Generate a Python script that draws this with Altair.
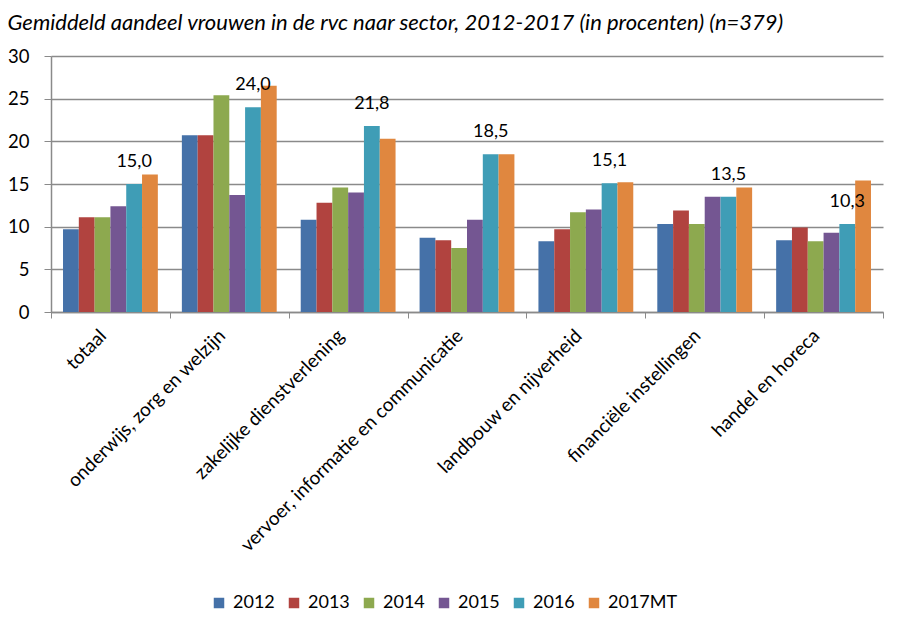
import altair as alt
import pandas as pd

sectors = ["totaal", "onderwijs, zorg en welzijn", "zakelijke dienstverlening",
           "vervoer, informatie en communicatie", "landbouw en nijverheid",
           "financiële instellingen", "handel en horeca"]
years = ["2012", "2013", "2014", "2015", "2016", "2017MT"]
v2012 = [9.7, 20.7, 10.8, 8.7, 8.3, 10.3, 8.4]
v2013 = [11.1, 20.7, 12.8, 8.4, 9.7, 11.9, 9.9]
v2014 = [11.1, 25.4, 14.6, 7.5, 11.7, 10.3, 8.3]
v2015 = [12.4, 13.7, 14.0, 10.8, 12.0, 13.5, 9.3]
v2016 = [15.0, 24.0, 21.8, 18.5, 15.1, 13.5, 10.3]
v2017 = [16.1, 26.5, 20.3, 18.5, 15.2, 14.6, 15.4]
colors = ["#4571A8", "#B1433F", "#8DA94F", "#745692", "#3F9DB6", "#E0873F"]
label_year = "2016"

series = [v2012, v2013, v2014, v2015, v2016, v2017]
rows = []
for y, vals in zip(years, series):
    for s, v in zip(sectors, vals):
        rows.append({"sector": s, "jaar": y, "waarde": v,
                     "label": f"{v:.1f}".replace(".", ",")})
df = pd.DataFrame(rows)

FONT = "Lato"

x = alt.X("sector:N", sort=sectors, title=None,
          scale=alt.Scale(paddingInner=0, paddingOuter=0),
          axis=alt.Axis(labelAngle=-45, labelAlign="right", labelBaseline="top",
                        labelFontSize=19, labelFont=FONT, labelColor="black",
                        labelPadding=8, labelOffset=-14, labelLimit=400,
                        tickBand="extent", tickColor="#8a8a8a", tickSize=6,
                        domainColor="#8a8a8a", domainWidth=1.5, grid=False))
xo = alt.XOffset("jaar:N", sort=years,
                 scale=alt.Scale(paddingInner=0, paddingOuter=0.76))

bars = alt.Chart(df).mark_bar().encode(
    x=x,
    xOffset=xo,
    y=alt.Y("waarde:Q", title=None,
            scale=alt.Scale(domain=[0, 30], nice=False),
            axis=alt.Axis(values=[0, 5, 10, 15, 20, 25, 30], labelFontSize=18.5,
                          labelFont=FONT, labelColor="black", labelPadding=15,
                          tickColor="#8a8a8a", tickSize=7, domainColor="#8a8a8a",
                          domainWidth=1.5, gridColor="#8a8a8a", gridWidth=1.5)),
    color=alt.Color("jaar:N", sort=years, title=None,
                    scale=alt.Scale(domain=years, range=colors),
                    legend=alt.Legend(orient="none", direction="horizontal",
                                      legendX=159, legendY=538,
                                      symbolType="square", symbolSize=110,
                                      symbolStrokeWidth=0, labelFontSize=18,
                                      labelFont=FONT, labelColor="black",
                                      labelOffset=5, columnPadding=10,
                                      labelLimit=300)),
)

texts = alt.Chart(df).transform_filter(
    alt.datum.jaar == label_year
).mark_text(baseline="bottom", dy=-13, fontSize=18, font=FONT, color="black").encode(
    x=alt.X("sector:N", sort=sectors),
    xOffset=xo,
    y=alt.Y("waarde:Q"),
    text="label:N",
)

chart = alt.layer(bars, texts).properties(
    width=832, height=256,
    title=alt.Title("Gemiddeld aandeel vrouwen in de rvc naar sector, 2012-2017 (in procenten) (n=379)",
                    anchor="start", font=FONT, fontSize=22, fontStyle="italic",
                    fontWeight="normal", color="black", dx=0, offset=12),
    autosize=alt.AutoSizeParams(type="none"),
    padding={"left": 43, "top": 48, "right": 9, "bottom": 301},
).configure_view(stroke=None)

chart.save("out.html", embed_options={"renderer": "svg", "actions": False})
